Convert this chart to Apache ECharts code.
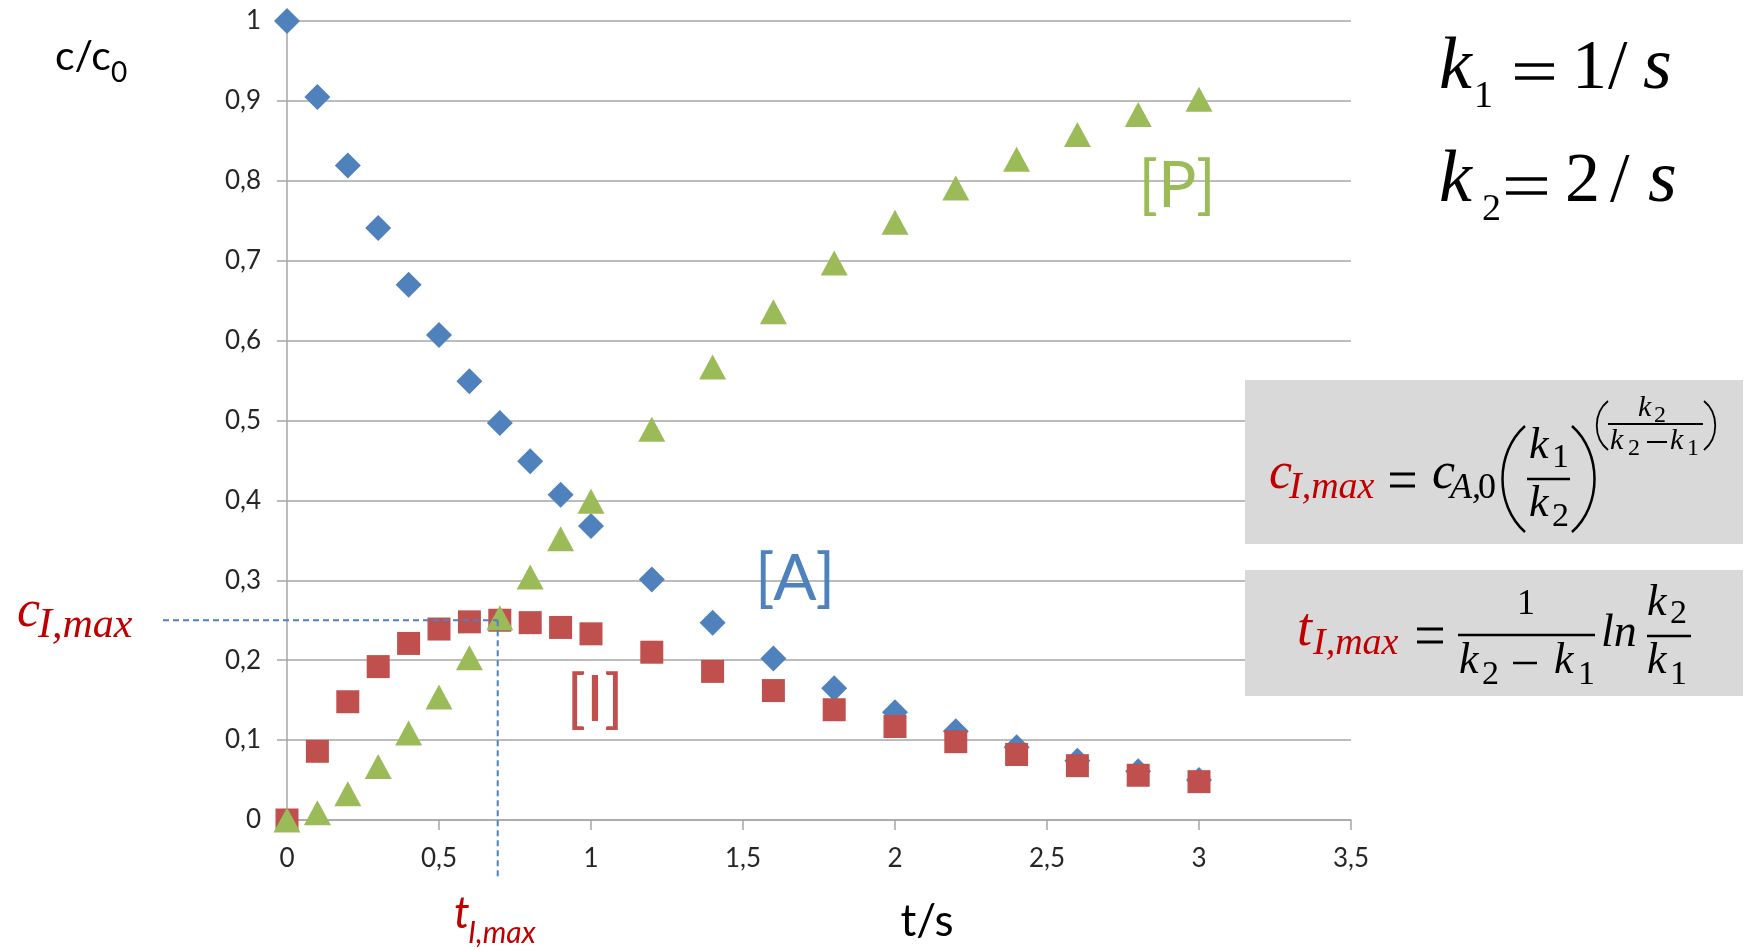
<!DOCTYPE html>
<html>
<head>
<meta charset="utf-8">
<script src="https://cdn.jsdelivr.net/npm/echarts@6/dist/echarts.min.js"></script>
<style>
  html, body { margin: 0; padding: 0; background: #fff; }
  #chart { width: 1752px; height: 950px; }
</style>
</head>
<body>
<div id="chart"></div>
<script>
// Consecutive reaction A -> I -> P, concentrations relative to c0
const times = [0, 0.1, 0.2, 0.3, 0.4, 0.5, 0.6, 0.7, 0.8, 0.9, 1.0, 1.2, 1.4, 1.6, 1.8, 2.0, 2.2, 2.4, 2.6, 2.8, 3.0];
const concA = [1, 0.905, 0.819, 0.741, 0.670, 0.607, 0.549, 0.497, 0.449, 0.407, 0.368, 0.301, 0.247, 0.202, 0.165, 0.135, 0.111, 0.091, 0.074, 0.061, 0.050];
const concI = [0, 0.086, 0.148, 0.192, 0.221, 0.239, 0.248, 0.250, 0.247, 0.241, 0.233, 0.210, 0.186, 0.162, 0.138, 0.117, 0.098, 0.082, 0.068, 0.056, 0.048];
const concP = [0, 0.009, 0.033, 0.067, 0.109, 0.154, 0.203, 0.253, 0.304, 0.352, 0.399, 0.489, 0.567, 0.636, 0.697, 0.748, 0.791, 0.827, 0.858, 0.883, 0.902];

const yTickLabels = ['0', '0,1', '0,2', '0,3', '0,4', '0,5', '0,6', '0,7', '0,8', '0,9', '1'];
const xTickLabels = ['0', '0,5', '1', '1,5', '2', '2,5', '3', '3,5'];

// rate constants (1/s)
const K1 = 1;
const K2 = 2;
const T_MAX = Math.log(K2 / K1) / (K2 - K1);
const C_MAX = Math.pow(K1 / K2, K2 / (K2 - K1));

const COL_A = '#4F81BD';
const COL_I = '#C0504D';
const COL_P = '#9BBB59';
const RED = '#C00000';
const GRID_GRAY = '#A6A6A6';

const SANS = 'Lato';
const SERIF = 'Liberation Serif';

const pairs = (ys) => times.map((t, i) => [t, ys[i]]);

const option = {
  animation: false,
  backgroundColor: '#ffffff',
  grid: { left: 287, top: 21, width: 1064, height: 799, containLabel: false },
  xAxis: {
    type: 'value', min: 0, max: 3.5, interval: 0.5,
    axisLine: { show: true, onZero: false, lineStyle: { color: GRID_GRAY, width: 1.5 } },
    axisTick: { show: true, length: 10, lineStyle: { color: GRID_GRAY, width: 1.5 } },
    splitLine: { show: false },
    axisLabel: {
      margin: 26, color: '#262626', fontFamily: SANS, fontSize: 26,
      formatter: (v) => xTickLabels[Math.round(v * 2)]
    }
  },
  yAxis: {
    type: 'value', min: 0, max: 1, interval: 0.1,
    axisLine: { show: true, onZero: false, lineStyle: { color: GRID_GRAY, width: 1.5 } },
    axisTick: { show: true, length: 10, lineStyle: { color: GRID_GRAY, width: 1.5 } },
    splitLine: { show: true, lineStyle: { color: GRID_GRAY, width: 1.5 } },
    axisLabel: {
      margin: 26, color: '#262626', fontFamily: SANS, fontSize: 26,
      formatter: (v) => yTickLabels[Math.round(v * 10)]
    }
  },
  series: [
    { name: 'A', type: 'scatter', symbol: 'diamond', symbolSize: [26, 26], data: pairs(concA),
      itemStyle: { color: COL_A, opacity: 1 }, z: 3 },
    { name: 'I', type: 'scatter', symbol: 'rect', symbolSize: [23, 23], data: pairs(concI),
      itemStyle: { color: COL_I, opacity: 1 }, z: 4 },
    { name: 'P', type: 'scatter', symbol: 'triangle', symbolSize: [27, 25], data: pairs(concP),
      itemStyle: { color: COL_P, opacity: 1 }, z: 5 }
  ]
};

const chart = echarts.init(document.getElementById('chart'));
chart.setOption(option);

// text piece positioned by its baseline
function txt(s, x, base, size, opts) {
  opts = opts || {};
  return {
    type: 'text', z: 30, x: x, y: base - 0.3 * size,
    style: {
      text: s, fill: opts.color || '#000',
      fontSize: size, fontFamily: opts.family || SERIF,
      fontStyle: opts.italic ? 'italic' : 'normal',
      textAlign: opts.align || 'left', align: opts.align || 'left',
      textVerticalAlign: 'middle', verticalAlign: 'middle'
    }
  };
}
function hline(x1, x2, y, w, color) {
  return { type: 'line', z: 30, shape: { x1: x1, y1: y, x2: x2, y2: y },
    style: { stroke: color || '#000', lineWidth: w || 2.5 } };
}
function paren(xEnd, xMid, yTop, yBot, w) {
  return { type: 'bezierCurve', z: 30,
    shape: { x1: xEnd, y1: yTop, x2: xEnd, y2: yBot, cpx1: xMid, cpy1: yTop + (yBot - yTop) * 0.25, cpx2: xMid, cpy2: yTop + (yBot - yTop) * 0.75 },
    style: { stroke: '#000', fill: null, lineWidth: w || 2.5 } };
}
function equals(x1, x2, yA, yB, w) {
  return [hline(x1, x2, yA, w || 3), hline(x1, x2, yB, w || 3)];
}
function label(s, x, y, color) {
  return { type: 'text', z: 30, x: x, y: y,
    style: { text: s, fill: color, fontSize: 64, fontFamily: SANS,
      align: 'center', verticalAlign: 'middle', textAlign: 'center', textVerticalAlign: 'middle' } };
}

const px = chart.convertToPixel({ gridIndex: 0 }, [T_MAX, C_MAX]);

const g = [];

// axis titles
g.push(txt('c/c', 55, 69, 41, { family: SANS }));
g.push(txt('0', 111, 81, 28, { family: SANS }));
g.push(txt('t/s', 927, 935, 44, { family: SANS, align: 'center' }));

// species labels
g.push(label('[A]', 795, 579, COL_A));
g.push(label('[I]', 595, 700, COL_I));
g.push(label('[P]', 1177, 186, COL_P));

// rate constants
g.push(txt('k', 1439, 91, 74, { italic: true }));
g.push(txt('1', 1474, 108, 38));
g.push(...equals(1515, 1554, 65, 78, 3.5));
g.push(txt('1', 1572, 91, 70));
g.push(txt('/', 1608, 91, 70));
g.push(txt('s', 1643, 91, 74, { italic: true }));

g.push(txt('k', 1439, 204, 74, { italic: true }));
g.push(txt('2', 1482, 221, 38));
g.push(...equals(1506, 1547, 179, 193, 3.5));
g.push(txt('2', 1565, 204, 70));
g.push(txt('/', 1610, 204, 70));
g.push(txt('s', 1648, 204, 74, { italic: true }));

// formula boxes
g.push({ type: 'rect', z: 25, shape: { x: 1245, y: 380, width: 498, height: 164 }, style: { fill: '#D9D9D9' } });
g.push({ type: 'rect', z: 25, shape: { x: 1245, y: 570, width: 498, height: 126 }, style: { fill: '#D9D9D9' } });

// c_I,max = c_A,0 (k1/k2)^(k2/(k2-k1))
g.push(txt('c', 1269, 490, 52, { italic: true, color: RED }));
g.push(txt('I,max', 1289, 499, 38, { italic: true, color: RED }));
g.push(...equals(1390, 1415, 474, 486));
g.push(txt('c', 1432, 490, 52, { italic: true }));
g.push(txt('A,', 1450, 499, 36, { italic: true }));
g.push(txt('0', 1478, 499, 36));
g.push(paren(1525, 1495, 426, 532, 2.5));
g.push(txt('k', 1529, 460, 44, { italic: true }));
g.push(txt('1', 1552, 468, 34));
g.push(hline(1527, 1570, 479, 2.5));
g.push(txt('k', 1529, 518, 44, { italic: true }));
g.push(txt('2', 1552, 527, 34));
g.push(paren(1572, 1602, 426, 532, 2.5));
g.push(paren(1608, 1593, 401, 450, 1.8));
g.push(txt('k', 1638, 417, 30, { italic: true }));
g.push(txt('2', 1654, 423, 24));
g.push(hline(1608, 1703, 424, 2));
g.push(txt('k', 1610, 450, 30, { italic: true }));
g.push(txt('2', 1628, 456, 24));
g.push(hline(1647, 1667, 442, 2));
g.push(txt('k', 1670, 450, 30, { italic: true }));
g.push(txt('1', 1687, 456, 24));
g.push(paren(1704, 1719, 401, 450, 1.8));

// t_I,max = 1/(k2-k1) ln(k2/k1)
g.push(txt('t', 1297, 647, 54, { italic: true, color: RED }));
g.push(txt('I,max', 1313, 655, 38, { italic: true, color: RED }));
g.push(...equals(1417, 1443, 629, 642));
g.push(txt('1', 1517, 615, 36));
g.push(hline(1458, 1595, 635, 2.5));
g.push(txt('k', 1459, 675, 44, { italic: true }));
g.push(txt('2', 1482, 685, 34));
g.push(hline(1513, 1537, 663, 2.5));
g.push(txt('k', 1554, 675, 44, { italic: true }));
g.push(txt('1', 1578, 685, 34));
g.push(txt('ln', 1601, 648, 46, { italic: true }));
g.push(txt('k', 1647, 617, 44, { italic: true }));
g.push(txt('2', 1670, 624, 34));
g.push(hline(1647, 1691, 636, 2.5));
g.push(txt('k', 1647, 675, 44, { italic: true }));
g.push(txt('1', 1670, 685, 34));

// maximum of the intermediate
g.push(txt('c', 17, 628, 52, { italic: true, color: RED }));
g.push(txt('I,max', 38, 639, 42, { italic: true, color: RED }));
g.push(txt('t', 454, 927, 44, { italic: true, color: RED, family: SANS }));
g.push(txt('I,max', 468, 942, 30, { italic: true, color: RED, family: SANS }));

// dashed guide lines to the maximum of [I]
const dash = { stroke: '#4F81BD', lineWidth: 2, lineDash: [6, 4] };
g.push({ type: 'line', z: 28, shape: { x1: 163, y1: px[1], x2: px[0], y2: px[1] }, style: dash });
g.push({ type: 'line', z: 28, shape: { x1: px[0], y1: px[1], x2: px[0], y2: 878 }, style: dash });

chart.setOption({ graphic: { elements: g } });
</script>
</body>
</html>
